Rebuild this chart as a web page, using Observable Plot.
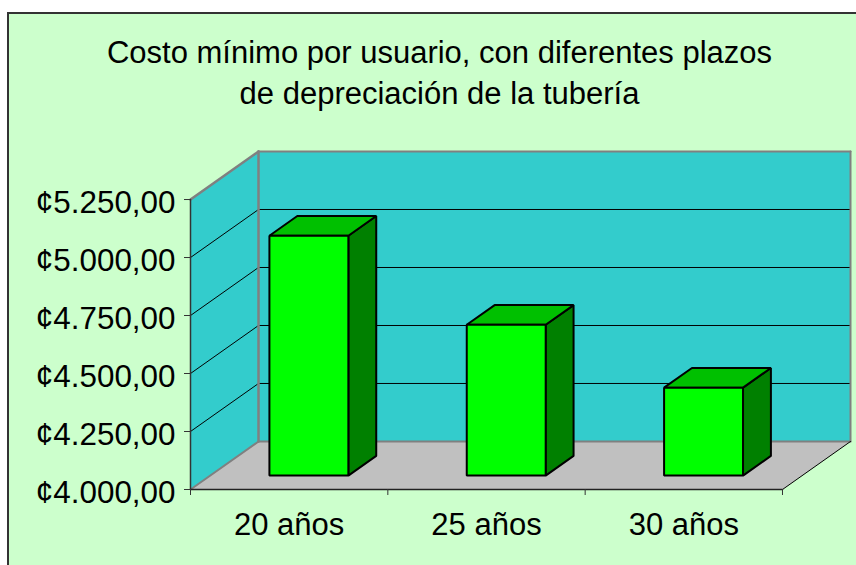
<!DOCTYPE html>
<html lang="es">
<head>
<meta charset="utf-8">
<script src="https://cdn.jsdelivr.net/npm/d3@7"></script>
<script src="https://cdn.jsdelivr.net/npm/@observablehq/plot@0.6"></script>
<style>
html,body{margin:0;padding:0;width:856px;height:565px;overflow:hidden;background:#fff;}
#card{position:absolute;left:7px;top:12px;width:849px;height:553px;box-sizing:border-box;border-top:2px solid #333;border-left:2px solid #333;background:#CCFFCC;}
#title{position:absolute;left:0;top:32px;width:879px;text-align:center;font:31px/41px "Liberation Sans",Arial,sans-serif;color:#000;}
#chart{position:absolute;left:0;top:130px;}
#chart svg{display:block;}
</style>
</head>
<body>
<div id="card"></div>
<div id="title">Costo mínimo por usuario, con diferentes plazos<br>de depreciación de la tubería</div>
<div id="chart"></div>
<script>
const categories = ["20 años", "25 años", "30 años"];
const values = [5034, 4650, 4379];
const yTicks = [4000, 4250, 4500, 4750, 5000, 5250];
const xTicks = [0, 1, 2, 3];

// One unit of depth shifts a point along the chart's oblique axis.
const depthX = 0.3446, depthY = 207;
const yMin = 4000, yMax = 5250, xMax = categories.length;
const barWidth = 0.4, barDepth0 = 0.29, barDepth1 = 0.7;

const fmt = d3.formatLocale({decimal: ",", thousands: ".", grouping: [3], currency: ["¢", ""]}).format("$,.2f");
const P = (c, v, d = 0) => ({x: c + d * depthX, y: v + d * depthY});

function poly(corners, fill, stroke, strokeWidth) {
  return Plot.line(corners.map(([c, v, d]) => P(c, v, d)), {
    x: "x", y: "y", curve: "linear-closed", fill, stroke, strokeWidth, strokeLinejoin: "miter"
  });
}
function seg(a, b, stroke, strokeWidth) {
  return Plot.line([P(...a), P(...b)], {x: "x", y: "y", stroke, strokeWidth});
}

const marks = [
  poly([[0, yMin, 0], [xMax, yMin, 0], [xMax, yMin, 1], [0, yMin, 1]], "#C0C0C0", "none", 0),
  poly([[0, yMin, 0], [0, yMin, 1], [0, yMax, 1], [0, yMax, 0]], "#33CCCC", "none", 0),
  poly([[0, yMin, 1], [xMax, yMin, 1], [xMax, yMax, 1], [0, yMax, 1]], "#33CCCC", "none", 0)
];

for (const t of yTicks.slice(1, -1)) {
  marks.push(seg([0, t, 0], [0, t, 1], "#000", 1));
  marks.push(seg([0, t, 1], [xMax, t, 1], "#000", 1));
}

marks.push(
  seg([0, yMin, 0], [0, yMin, 1], "#808080", 2),
  seg([0, yMax, 0], [0, yMax, 1], "#808080", 2.5),
  seg([0, yMin, 1], [xMax, yMin, 1], "#808080", 2),
  seg([0, yMin, 1], [0, yMax, 1], "#808080", 2.5),
  seg([0, yMax, 1], [xMax, yMax, 1], "#808080", 2),
  seg([xMax, yMin, 1], [xMax, yMax, 1], "#808080", 2),
  seg([xMax, yMin, 0], [xMax, yMin, 1], "#000", 1)
);

values.forEach((v, i) => {
  const c0 = i + 0.5 - barWidth / 2, c1 = i + 0.5 + barWidth / 2;
  const d0 = barDepth0, d1 = barDepth1;
  marks.push(
    poly([[c1, yMin, d0], [c1, yMin, d1], [c1, v, d1], [c1, v, d0]], "#008000", "#000", 2),
    poly([[c0, v, d0], [c1, v, d0], [c1, v, d1], [c0, v, d1]], "#00C000", "#000", 2),
    poly([[c0, yMin, d0], [c1, yMin, d0], [c1, v, d0], [c0, v, d0]], "#00FF00", "#000", 2)
  );
});

marks.push(
  seg([0, yMin, 0], [0, yMax, 0], "#333", 1.5),
  seg([0, yMin, 0], [xMax, yMin, 0], "#222", 1.5),
  Plot.axisY({
    ticks: yTicks, tickFormat: () => "", tickSize: 6, label: null,
    anchor: "left", stroke: "#333"
  }),
  Plot.text(yTicks, {
    x: () => 0, y: d => d, text: fmt, textAnchor: "end", dx: -15, dy: 3,
    fontSize: 31.4, fill: "#000", fontFamily: "Liberation Sans, Arial, sans-serif"
  }),
  Plot.axisX({
    ticks: xTicks, tickFormat: () => "", tickSize: 6, label: null,
    anchor: "bottom", stroke: "#333"
  }),
  Plot.text(categories, {
    x: (d, i) => i + 0.5, y: () => yMin, text: d => d, dy: 36,
    fontSize: 31, fill: "#000", fontFamily: "Liberation Sans, Arial, sans-serif"
  })
);

const chart = Plot.plot({
  width: 856, height: 435,
  marginLeft: 190, marginRight: 6, marginTop: 21, marginBottom: 76,
  x: {type: "linear", domain: [0, xMax + depthX], axis: null},
  y: {type: "linear", domain: [yMin, yMax + depthY], axis: null},
  style: {background: "transparent", overflow: "visible"},
  marks
});
document.getElementById("chart").append(chart);
</script>
</body>
</html>
